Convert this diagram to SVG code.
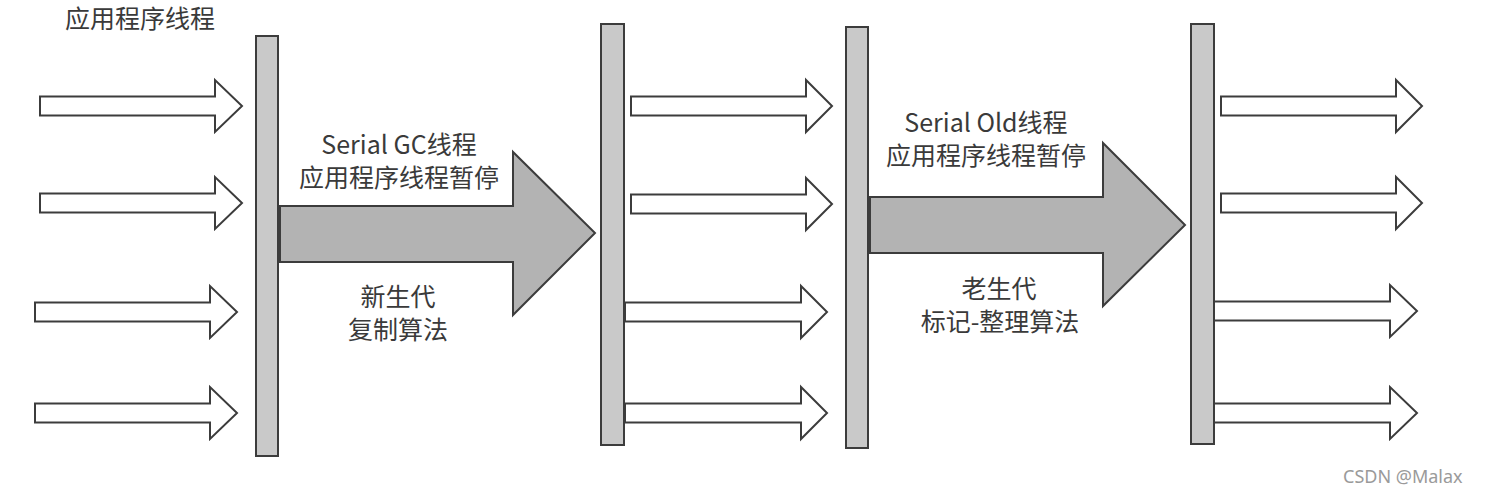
<svg xmlns="http://www.w3.org/2000/svg" width="1485" height="495" viewBox="0 0 1485 495">
<style>
.bar{fill:#c9c9c9;stroke:#3c3c3c;stroke-width:2}
.sa{fill:#ffffff;stroke:#3c3c3c;stroke-width:2;stroke-linejoin:miter}
.ba{fill:#b3b3b3;stroke:#3c3c3c;stroke-width:2;stroke-linejoin:miter}
.t{font-family:"Noto Sans CJK SC","Noto Sans",sans-serif;font-size:25px;fill:#3a3a3a;text-anchor:middle}
.wm{font-family:"Noto Sans","Liberation Sans",sans-serif;font-size:18px;fill:#9a9a9a}
</style>
<rect width="1485" height="495" fill="#ffffff"/>
<g id="label-app-threads"><text class="t" x="140" y="28">应用程序线程</text></g>
<g id="bar1"><rect class="bar" x="256" y="36" width="22" height="420"/></g>
<g id="bar2"><rect class="bar" x="601" y="24" width="23" height="421"/></g>
<g id="bar3"><rect class="bar" x="846" y="27" width="22" height="421"/></g>
<g id="bar4"><rect class="bar" x="1191" y="24" width="23" height="420"/></g>
<g id="connectors">
<polygon class="sa" points="40,96.5 215,96.5 215,80 242,106 215,132 215,115.5 40,115.5"/>
<polygon class="sa" points="40,193.5 215,193.5 215,177 242,203 215,229 215,212.5 40,212.5"/>
<polygon class="sa" points="35,302.5 210,302.5 210,286 237,312 210,338 210,321.5 35,321.5"/>
<polygon class="sa" points="35,403.5 210,403.5 210,387 237,413 210,439 210,422.5 35,422.5"/>
<polygon class="sa" points="631,96.5 806,96.5 806,80 832,106 806,132 806,115.5 631,115.5"/>
<polygon class="sa" points="631,194.5 806,194.5 806,178 832,204 806,230 806,213.5 631,213.5"/>
<polygon class="sa" points="625,302.5 801,302.5 801,286 827,312 801,338 801,321.5 625,321.5"/>
<polygon class="sa" points="625,403.5 801,403.5 801,387 827,413 801,439 801,422.5 625,422.5"/>
<polygon class="sa" points="1221,96.5 1396,96.5 1396,80 1422,106 1396,132 1396,115.5 1221,115.5"/>
<polygon class="sa" points="1221,193.5 1396,193.5 1396,177 1422,203 1396,229 1396,212.5 1221,212.5"/>
<polygon class="sa" points="1214,301.5 1390,301.5 1390,285 1417,311 1390,337 1390,320.5 1214,320.5"/>
<polygon class="sa" points="1214,403.5 1390,403.5 1390,387 1417,413 1390,439 1390,422.5 1214,422.5"/>
<polygon class="ba" points="280,206 513,206 513,152 595,233 513,315 513,262 280,262"/>
<polygon class="ba" points="870,197 1103,197 1103,143 1185,225 1103,306 1103,253 870,253"/>
</g>
<g id="gc-label-1">
<text class="t" x="399" y="154">Serial GC线程</text>
<text class="t" x="399" y="187">应用程序线程暂停</text>
<text class="t" x="398" y="306">新生代</text>
<text class="t" x="398" y="339">复制算法</text>
</g>
<g id="gc-label-2">
<text class="t" x="986" y="132">Serial Old线程</text>
<text class="t" x="986" y="165">应用程序线程暂停</text>
<text class="t" x="999" y="298">老生代</text>
<text class="t" x="1000" y="331">标记-整理算法</text>
</g>
<text class="wm" x="1343" y="483">CSDN @Malax</text>
</svg>
